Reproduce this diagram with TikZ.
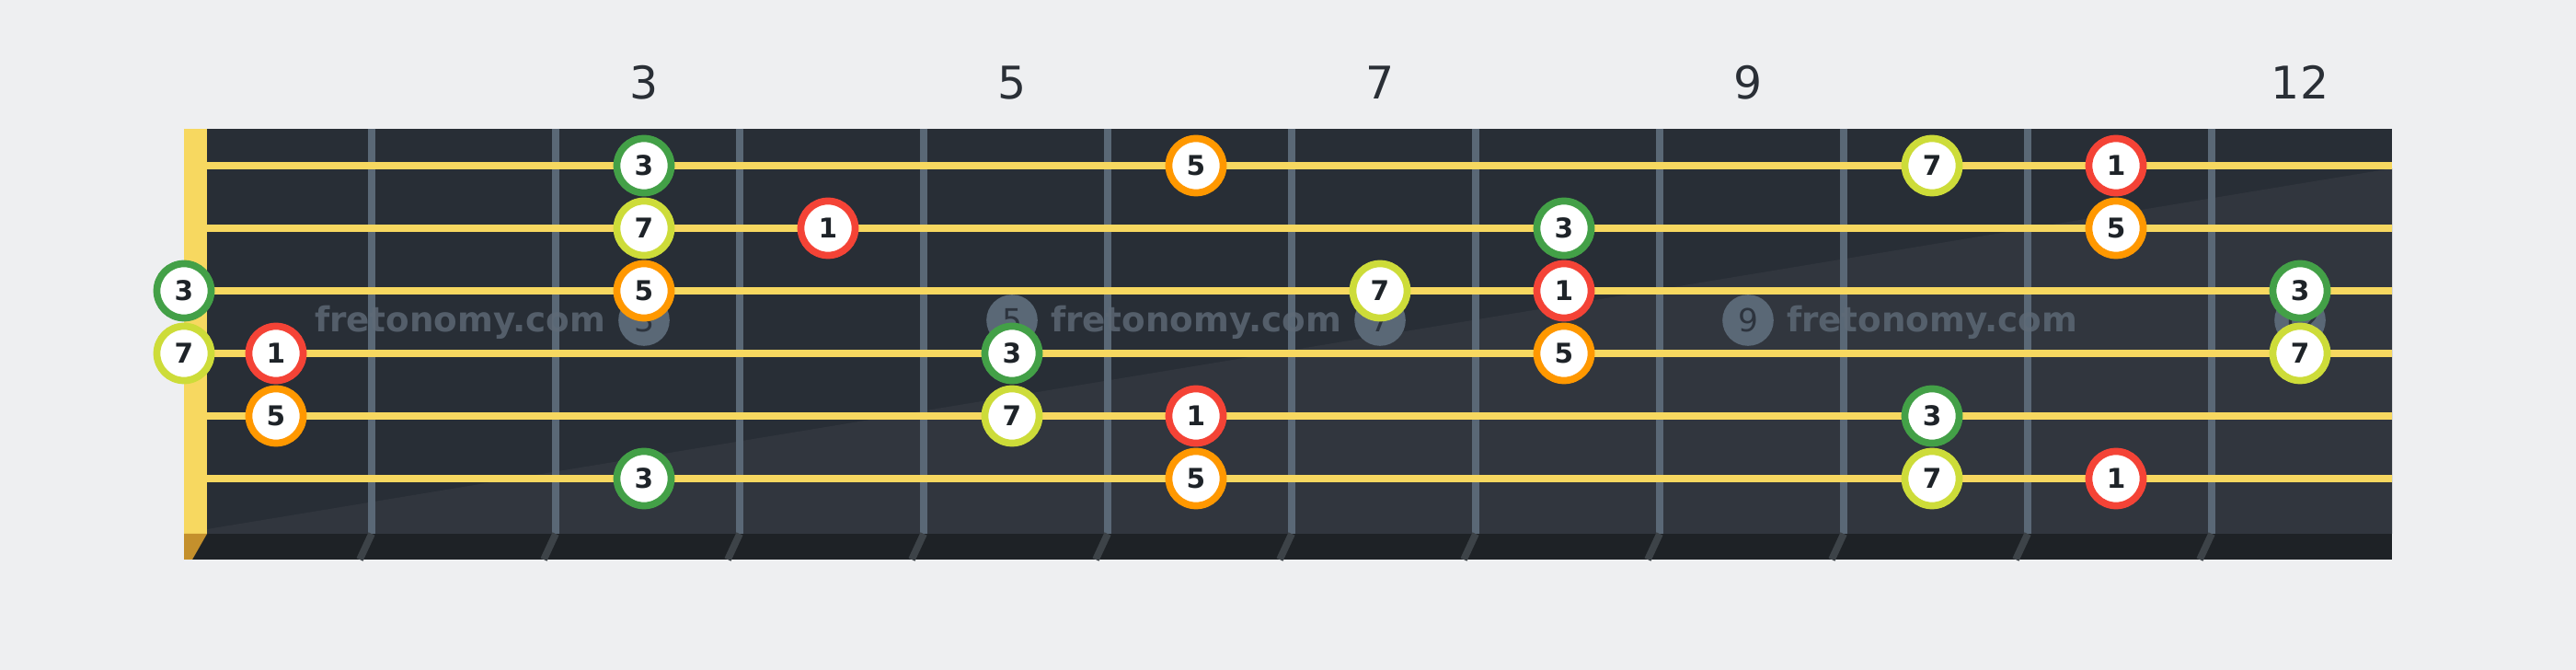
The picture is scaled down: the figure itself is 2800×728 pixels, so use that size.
\documentclass[tikz,border=0pt]{standalone}
\usepackage{xcolor}
\usepackage{fontspec}
\setmainfont{DejaVu Sans}
\usepackage{tikz}

\begin{document}
\begin{tikzpicture}[x=0.01cm,y=0.01cm,yscale=-1,xscale=1,
        note/.style={circle,draw,fill=white,line width=0.077cm,minimum size=0.59cm,inner sep=0pt,font=\fontsize{8.4}{9}\selectfont\bfseries,text={rgb, 255:red, 30; green, 35; blue, 40 }},
        root/.style={note,draw={rgb, 255:red, 244; green, 67; blue, 54 }},
        third/.style={note,draw={rgb, 255:red, 67; green, 160; blue, 71 }},
        fifth/.style={note,draw={rgb, 255:red, 255; green, 152; blue, 0 }},
        seventh/.style={note,draw={rgb, 255:red, 205; green, 220; blue, 57 }},
        fretline/.style={draw={rgb, 255:red, 90; green, 104; blue, 118 },line width=0.08cm},
        fretshade/.style={draw={rgb, 255:red, 61; green, 67; blue, 72 },line width=0.077cm},
        stringline/.style={draw={rgb, 255:red, 247; green, 216; blue, 96 },line width=0.077cm},
        fretnum/.style={anchor=base,inner sep=0pt,font=\fontsize{13.9}{15}\selectfont,text={rgb, 255:red, 42; green, 47; blue, 54 }},
        inlay/.style={circle,fill={rgb, 255:red, 90; green, 104; blue, 118 },minimum size=0.556cm,inner sep=0pt,font=\fontsize{9.8}{11}\selectfont,text={rgb, 255:red, 45; green, 52; blue, 62 }},
        watermark/.style={anchor=base,inner sep=0pt,font=\fontsize{10.6}{12}\selectfont\bfseries,text={rgb, 255:red, 95; green, 107; blue, 120 },text opacity=0.8}
    ]
        \fill [color={rgb, 255:red, 238; green, 239; blue, 241 }] (0,0) rectangle (2800,728);
        \useasboundingbox (0,0) rectangle (2800,728);

        \fill [color={rgb, 255:red, 40; green, 46; blue, 54 }] (200,140) rectangle (2600,580);
        \fill [color={rgb, 255:red, 49; green, 54; blue, 62 }] (225,575) -- (2600,183) -- (2600,580) -- (225,580) -- cycle;
        \fill [color={rgb, 255:red, 30; green, 34; blue, 38 }] (200,580) rectangle (2600,608);

        \draw [fretline] (404,140) -- (404,580);
        \draw [fretline] (604,140) -- (604,580);
        \draw [fretline] (804,140) -- (804,580);
        \draw [fretline] (1004,140) -- (1004,580);
        \draw [fretline] (1204,140) -- (1204,580);
        \draw [fretline] (1404,140) -- (1404,580);
        \draw [fretline] (1604,140) -- (1604,580);
        \draw [fretline] (1804,140) -- (1804,580);
        \draw [fretline] (2004,140) -- (2004,580);
        \draw [fretline] (2204,140) -- (2204,580);
        \draw [fretline] (2404,140) -- (2404,580);

        \draw [fretshade] (404,580) -- (391,608);
        \draw [fretshade] (604,580) -- (591,608);
        \draw [fretshade] (804,580) -- (791,608);
        \draw [fretshade] (1004,580) -- (991,608);
        \draw [fretshade] (1204,580) -- (1191,608);
        \draw [fretshade] (1404,580) -- (1391,608);
        \draw [fretshade] (1604,580) -- (1591,608);
        \draw [fretshade] (1804,580) -- (1791,608);
        \draw [fretshade] (2004,580) -- (1991,608);
        \draw [fretshade] (2204,580) -- (2191,608);
        \draw [fretshade] (2404,580) -- (2391,608);

        \fill [color={rgb, 255:red, 247; green, 216; blue, 96 }] (200,140) rectangle (225,580);
        \fill [color={rgb, 255:red, 196; green, 144; blue, 44 }] (200,580) -- (225,580) -- (209,608) -- (200,608) -- cycle;

        \node [watermark] (brand1) at (500,361) {fretonomy.com};
        \node [watermark] (brand2) at (1300,361) {fretonomy.com};
        \node [watermark] (brand3) at (2100,361) {fretonomy.com};

        \node [inlay] (inlay3) at (700,348) {3};
        \node [inlay] (inlay5) at (1100,348) {5};
        \node [inlay] (inlay7) at (1500,348) {7};
        \node [inlay] (inlay9) at (1900,348) {9};
        \node [inlay] (inlay12) at (2500,348) {12};

        \draw [stringline] (225,180) -- (2600,180);
        \draw [stringline] (225,248) -- (2600,248);
        \draw [stringline] (225,316) -- (2600,316);
        \draw [stringline] (225,384) -- (2600,384);
        \draw [stringline] (225,452) -- (2600,452);
        \draw [stringline] (225,520) -- (2600,520);

        \node [fretnum] (num3) at (700,108) {3};
        \node [fretnum] (num5) at (1100,108) {5};
        \node [fretnum] (num7) at (1500,108) {7};
        \node [fretnum] (num9) at (1900,108) {9};
        \node [fretnum] (num12) at (2500,108) {12};

        \node [third] (n1f3) at (700,180) {3};
        \node [fifth] (n1f6) at (1300,180) {5};
        \node [seventh] (n1f10) at (2100,180) {7};
        \node [root] (n1f11) at (2300,180) {1};

        \node [seventh] (n2f3) at (700,248) {7};
        \node [root] (n2f4) at (900,248) {1};
        \node [third] (n2f8) at (1700,248) {3};
        \node [fifth] (n2f11) at (2300,248) {5};

        \node [third] (n3f0) at (200,316) {3};
        \node [fifth] (n3f3) at (700,316) {5};
        \node [seventh] (n3f7) at (1500,316) {7};
        \node [root] (n3f8) at (1700,316) {1};
        \node [third] (n3f12) at (2500,316) {3};

        \node [seventh] (n4f0) at (200,384) {7};
        \node [root] (n4f1) at (300,384) {1};
        \node [third] (n4f5) at (1100,384) {3};
        \node [fifth] (n4f8) at (1700,384) {5};
        \node [seventh] (n4f12) at (2500,384) {7};

        \node [fifth] (n5f1) at (300,452) {5};
        \node [seventh] (n5f5) at (1100,452) {7};
        \node [root] (n5f6) at (1300,452) {1};
        \node [third] (n5f10) at (2100,452) {3};

        \node [third] (n6f3) at (700,520) {3};
        \node [fifth] (n6f6) at (1300,520) {5};
        \node [seventh] (n6f10) at (2100,520) {7};
        \node [root] (n6f11) at (2300,520) {1};

    \end{tikzpicture}
\end{document}
